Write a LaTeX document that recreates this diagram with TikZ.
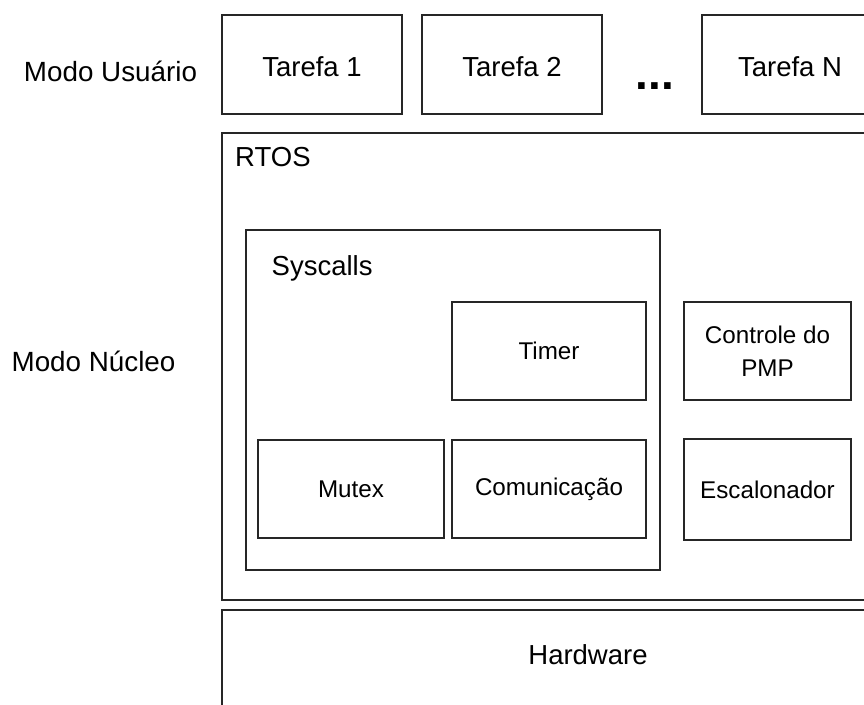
\documentclass[tikz,border=0pt]{standalone}
\usepackage{fontspec}
\setmainfont{Liberation Sans}
\begin{document}
\begin{tikzpicture}[x=1pt,y=-1pt,
  frame/.style={draw=black!85, line width=2pt, fill=white, inner sep=0pt},
  big/.style={font=\fontsize{27.5}{31}\selectfont, inner sep=0pt},
  small/.style={font=\fontsize{24.2}{33}\selectfont, align=center},
  label/.style={font=\fontsize{27.8}{31}\selectfont, inner sep=0pt}]
  \useasboundingbox (0,0) rectangle (864,704);
  \clip (0,0) rectangle (864,704);

  % user-mode tasks
  \node[frame, minimum width=180pt, minimum height=99pt] (t1) at (312,64.5) {};
  \node[frame, minimum width=180pt, minimum height=99pt] (t2) at (512,64.5) {};
  \node[frame, minimum width=180pt, minimum height=99pt] (tn) at (792,64.5) {};
  \node[big, anchor=base] (t1lbl) at (t1.center |- 0,76) {Tarefa 1};
  \node[big, anchor=base] (t2lbl) at (t2.center |- 0,76) {Tarefa 2};
  \node[big, anchor=base] (tnlbl) at (790,76) {Tarefa N};
  \node[font=\fontsize{46}{50}\selectfont\bfseries, inner sep=0pt, anchor=base] (dots) at (655,89) {...};

  % kernel: RTOS and its parts
  \node[frame, minimum width=732pt, minimum height=467pt] (rtos) at (588,366.5) {};
  \node[big, anchor=base west] (rtoslbl) at (235,166) {RTOS};

  \node[frame, minimum width=414pt, minimum height=340pt] (sys) at (453,400) {};
  \node[big, anchor=base west] (syslbl) at (271.5,275.5) {Syscalls};

  \node[frame, small, minimum width=194pt, minimum height=98pt] (timer) at (549,351) {Timer};
  \node[frame, small, minimum width=186pt, minimum height=98pt] (mutex) at (351,489) {Mutex};
  \node[frame, small, minimum width=194pt, minimum height=98pt] (com) at (549,489) {Comunicação};

  \node[frame, small, minimum width=167pt, minimum height=98pt] (pmp) at (767.5,351) {Controle do\\PMP};
  \node[frame, small, minimum width=167pt, minimum height=101pt] (esc) at (767.5,489.5) {Escalonador};

  % hardware layer
  \node[frame, minimum width=732pt, minimum height=110pt] (hw) at (588,665) {};
  \node[big, anchor=base] (hwlbl) at (588,664.5) {Hardware};

  % mode labels
  \node[label, anchor=base] (user) at (110.5,81.7) {Modo Usuário};
  \node[label, anchor=base] (kern) at (93.5,371.7) {Modo Núcleo};
\end{tikzpicture}
\end{document}
